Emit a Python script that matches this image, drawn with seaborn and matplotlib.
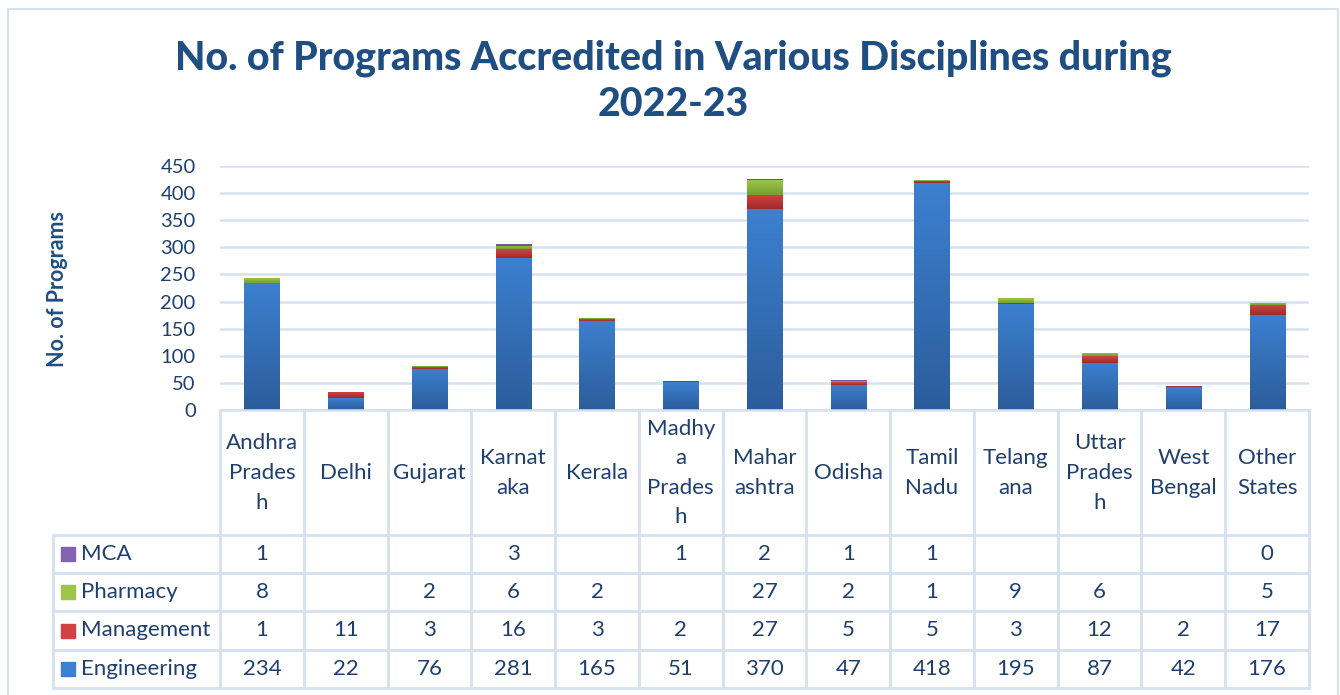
import matplotlib
matplotlib.use("Agg")
import matplotlib.pyplot as plt
import numpy as np
import seaborn as sns
from matplotlib.patches import Rectangle
from matplotlib.lines import Line2D
from matplotlib.colors import to_rgb

# --- datos ---
estados = ["Andhra Pradesh", "Delhi", "Gujarat", "Karnataka", "Kerala",
           "Madhya Pradesh", "Maharashtra", "Odisha", "Tamil Nadu", "Telangana",
           "Uttar Pradesh", "West Bengal", "Other States"]
etiquetas = ["Andhra\nPrades\nh", "Delhi", "Gujarat", "Karnat\naka", "Kerala",
             "Madhy\na\nPrades\nh", "Mahar\nashtra", "Odisha", "Tamil\nNadu",
             "Telang\nana", "Uttar\nPrades\nh", "West\nBengal", "Other\nStates"]
engineering = [234, 22, 76, 281, 165, 51, 370, 47, 418, 195, 87, 42, 176]
management = [1, 11, 3, 16, 3, 2, 27, 5, 5, 3, 12, 2, 17]
pharmacy = [8, None, 2, 6, 2, None, 27, 2, 1, 9, 6, None, 5]
mca = [1, None, None, 3, None, 1, 2, 1, 1, None, None, None, 0]

# (nombre, valores, color arriba, color abajo)
series = [("Engineering", engineering, "#3C80D0", "#2C5D9B"),
          ("Management", management, "#D24242", "#A02A2A"),
          ("Pharmacy", pharmacy, "#9EC44C", "#74A02E"),
          ("MCA", mca, "#8462B2", "#64469A")]
filas_tabla = ["MCA", "Pharmacy", "Management", "Engineering"]

AZUL_TXT = "#1F3F6E"
AZUL_TIT = "#1F4E82"
LINEA = "#D5E1F1"

W, H = 1340, 695


def fx(px):
    return px / W


def fy(py):
    return 1 - py / H


sns.set_theme(style="white")
plt.rcParams["font.family"] = ["Lato", "DejaVu Sans"]

fig = plt.figure(figsize=(13.4, 6.95), dpi=100)
x0, x1, ytop, ybot = 220, 1309, 166, 410
ax = fig.add_axes([fx(x0), fy(ybot), fx(x1) - fx(x0), fy(ytop) - fy(ybot)])

# barras apiladas
base = np.zeros(len(estados))
for nombre, valores, c_arr, c_ab in series:
    v = np.array([0 if x is None else x for x in valores], dtype=float)
    n_antes = len(ax.patches)
    sns.barplot(x=estados, y=v, bottom=base, color=c_arr, saturation=1,
                width=0.42, errorbar=None, ax=ax, linewidth=0)
    # degradado vertical tipo Excel
    grad = np.linspace(0, 1, 64)[:, None]
    ca, cb = np.array(to_rgb(c_arr)), np.array(to_rgb(c_ab))
    img = (cb[None, None, :] * (1 - grad[..., None]) + ca[None, None, :] * grad[..., None])
    for p in ax.patches[n_antes:]:
        h = p.get_height()
        if h <= 0:
            continue
        bx, by, bw = p.get_x(), p.get_y(), p.get_width()
        im = ax.imshow(img, extent=[bx, bx + bw, by, by + h], origin="lower",
                       aspect="auto", zorder=p.get_zorder() + 0.1, interpolation="bilinear")
        im.set_clip_path(p)
    base = base + v

ax.set_ylim(0, 450)
ax.set_xlim(-0.5, len(estados) - 0.5)
ax.set_yticks(np.arange(0, 451, 50))
ax.yaxis.grid(True, color=LINEA, linewidth=1.8)
ax.set_axisbelow(True)
for s in ["top", "right", "left"]:
    ax.spines[s].set_visible(False)
ax.spines["bottom"].set_color(LINEA)
ax.spines["bottom"].set_linewidth(1.8)
ax.set_xticks([])
ax.set_xlabel("")
ax.tick_params(axis="y", length=0, pad=17.5, labelsize=14.5, labelcolor=AZUL_TXT)
ax.set_ylabel("")

fig.text(fx(57), fy(289), "No. of Programs", rotation=90, ha="center", va="center",
         fontsize=15.5, fontweight="bold", color=AZUL_TIT)

# titulo
fig.text(fx(673), fy(58), "No. of Programs Accredited in Various Disciplines during",
         ha="center", va="center", fontsize=28.4, fontweight="black", color=AZUL_TIT)
fig.text(fx(673), fy(105), "2022-23", ha="center", va="center", fontsize=28.4,
         fontweight="black", color=AZUL_TIT)

# tabla de datos
ancho = (x1 - x0) / len(estados)
filas_y = [535, 573, 611, 650, 688]
for k in range(len(estados) + 1):
    xx = x0 + k * ancho
    fig.add_artist(Line2D([fx(xx), fx(xx)], [fy(410), fy(688)], color=LINEA, lw=2))
fig.add_artist(Line2D([fx(53), fx(53)], [fy(535), fy(688)], color=LINEA, lw=2))
for yy in filas_y:
    fig.add_artist(Line2D([fx(53), fx(x1)], [fy(yy), fy(yy)], color=LINEA, lw=2))

for k, et in enumerate(etiquetas):
    fig.text(fx(x0 + (k + 0.5) * ancho), fy(473), et, ha="center", va="center",
             fontsize=16, color=AZUL_TXT, linespacing=1.6)

colores = {n: c for n, _, c, _ in series}
datos = {n: v for n, v, _, _ in series}
for i, fila in enumerate(filas_tabla):
    yc = (filas_y[i] + filas_y[i + 1]) / 2
    fig.add_artist(Rectangle((fx(61), fy(yc + 7)), fx(14), 14 / H,
                             color=colores[fila], transform=fig.transFigure))
    fig.text(fx(81), fy(yc), fila, ha="left", va="center", fontsize=16, color=AZUL_TXT)
    for k, val in enumerate(datos[fila]):
        if val is None:
            continue
        fig.text(fx(x0 + (k + 0.5) * ancho), fy(yc), str(val), ha="center",
                 va="center", fontsize=16, color=AZUL_TXT)

# borde del grafico
fig.add_artist(Rectangle((fx(8), fy(700)), fx(1330), (700 - 9) / H, fill=False,
                         edgecolor=LINEA, lw=1.5, transform=fig.transFigure))

fig.savefig("out.png", dpi=100, facecolor="white")
